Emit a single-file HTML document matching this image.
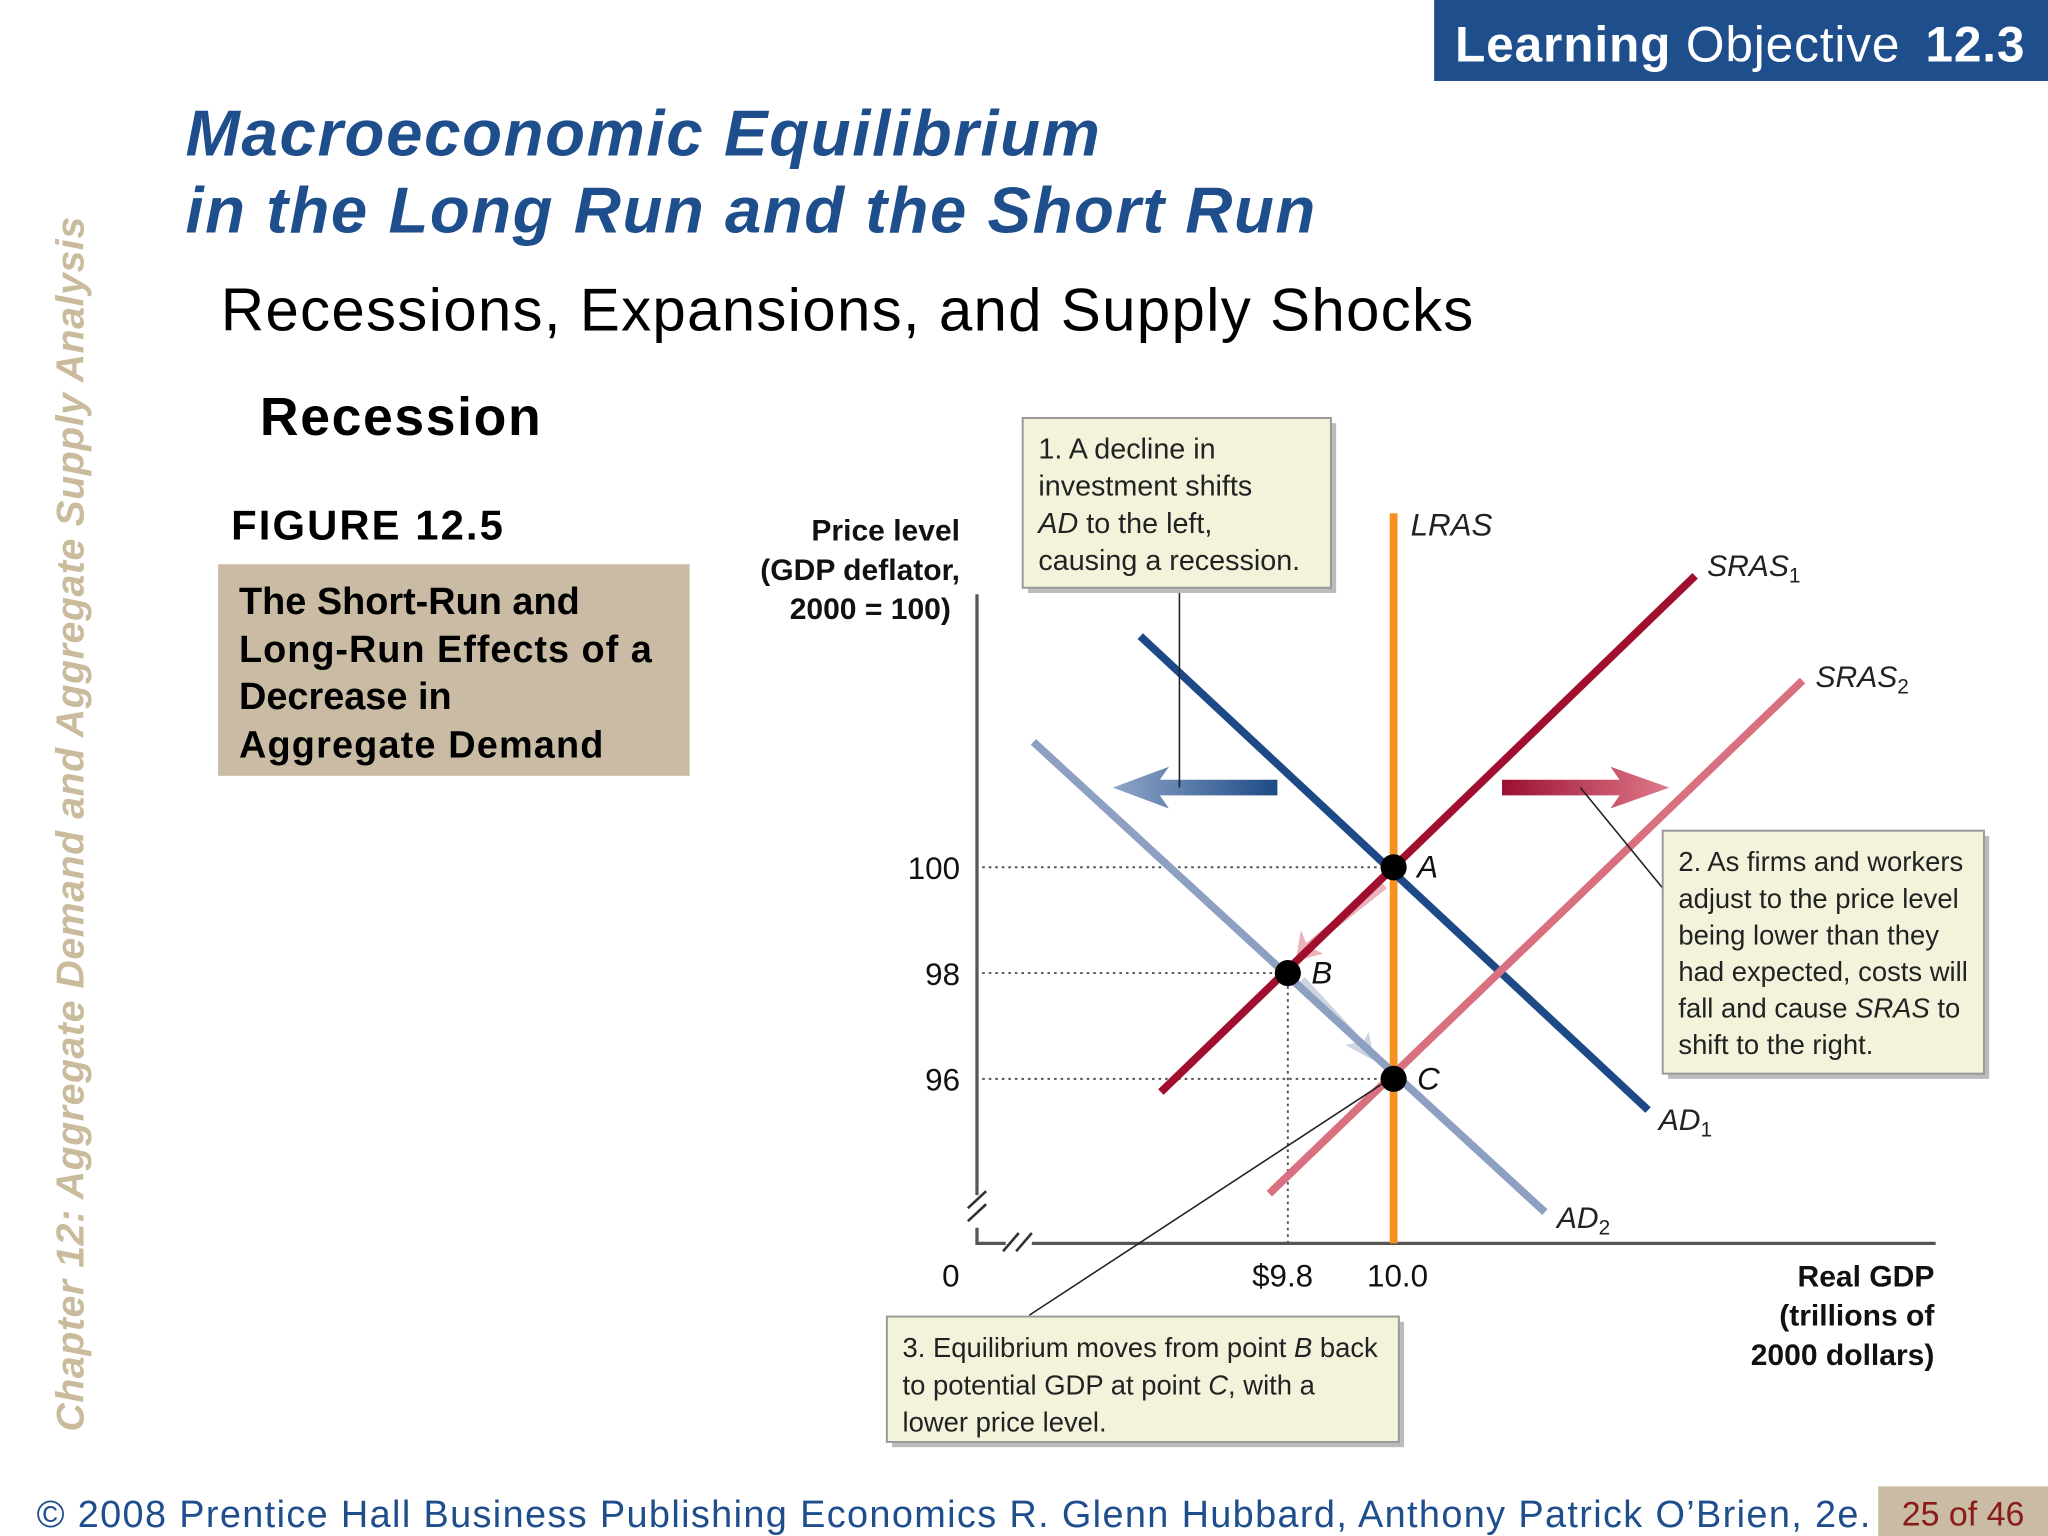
<!DOCTYPE html>
<html><head><meta charset="utf-8"><style>
html,body{margin:0;padding:0;background:#fff;}
svg{display:block;}
text{font-family:"Liberation Sans",sans-serif;}
</style></head><body>
<svg id="s" width="2048" height="1536" viewBox="0 0 1568 1176" xmlns="http://www.w3.org/2000/svg">
<defs>
<linearGradient id="gb" x1="0" x2="1"><stop offset="0" stop-color="#8fa6c8"/><stop offset="1" stop-color="#1d4a86"/></linearGradient>
<linearGradient id="gr" x1="0" x2="1"><stop offset="0" stop-color="#9a1030"/><stop offset="1" stop-color="#e07a8a"/></linearGradient>
</defs>
<rect x="1098" y="0" width="470" height="62" fill="#1f4e8c"/>
<text x="1114" y="47" font-size="38" fill="#fff" textLength="436"><tspan font-weight="bold">Learning</tspan> Objective <tspan font-weight="bold" dx="8">12.3</tspan></text>
<text x="142" y="119" font-size="50" font-weight="bold" font-style="italic" fill="#1f4e8c" textLength="700">Macroeconomic Equilibrium</text>
<text x="142" y="178" font-size="50" font-weight="bold" font-style="italic" fill="#1f4e8c" textLength="865">in the Long Run and the Short Run</text>
<text x="169" y="253" font-size="46" fill="#000" textLength="959">Recessions, Expansions, and Supply Shocks</text>
<text x="199" y="333" font-size="41" font-weight="bold" fill="#000" textLength="215">Recession</text>
<text transform="translate(64,1096) rotate(-90)" font-size="30" font-weight="bold" font-style="italic" fill="#c9bb9c" textLength="930">Chapter 12:  Aggregate Demand and Aggregate Supply Analysis</text>
<text x="177" y="413" font-size="32" font-weight="bold" fill="#000" textLength="208">FIGURE 12.5</text>
<rect x="167" y="432" width="361" height="162" fill="#c9bba4"/>
<g font-size="29" font-weight="bold" fill="#000">
<text x="183" y="470">The Short-Run and</text><text x="183" y="507" textLength="316">Long-Run Effects of a</text><text x="183" y="543">Decrease in</text><text x="183" y="580" textLength="279">Aggregate Demand</text></g>

<g id="chart"></g>

<rect x="0" y="1140" width="1568" height="36" fill="#fff"/>
<text x="28" y="1169" font-size="29" fill="#1f4e8c" textLength="1404">© 2008 Prentice Hall Business Publishing    Economics  R. Glenn Hubbard, Anthony Patrick O’Brien, 2e.</text>
<rect x="1438" y="1138" width="130" height="38" fill="#c9bba4"/>
<text x="1456" y="1168" font-size="26" fill="#8b1a1a">25 of 46</text>
</svg>
<script>
const curveNames=['AD1','AD2','SRAS1','SRAS2'];
const curveX1=[9.521,9.319,9.560,9.765];
const curveY1=[104.37,102.37,95.75,93.83];
const curveX2=[10.481,10.286,10.570,10.773];
const curveY2=[95.41,93.48,105.51,103.53];
const curveColors=['#1d4a86','#8ea0c2','#a0102e','#d9707f'];
const pointNames=['A','B','C'];
const pointX=[10.0,9.8,10.0];
const pointY=[100,98,96];
const yTicks=[100,98,96];
const xTicks=[9.8,10.0];
const xTickLabels=['$9.8','10.0'];
const lrasX=10.0;
const NS='http://www.w3.org/2000/svg';
const X=v=>1067+(v-10)*405;
const Y=v=>664-(v-100)*40.5;
const g=document.getElementById('chart');
function el(t,a,p){const e=document.createElementNS(NS,t);for(const k in a)e.setAttribute(k,a[k]);(p||g).appendChild(e);return e;}
function tx(x,y,s,a,p){const e=el('text',Object.assign({x:x,y:y},a||{}),p);e.textContent=s;return e;}
let ax=el('path',{d:'M748 455 L748 915 M748 940 L748 952 L770 952 M790 952 L1482 952',stroke:'#555','stroke-width':2.5,fill:'none'});


el('path',{d:'M741 925 L755 912 M741 935 L755 922 M768 958 L780 944 M778 958 L790 944',stroke:'#333','stroke-width':2});
yTicks.forEach((v,i)=>{
 const l=el('line',{x1:752,x2:X(pointX[i]),y1:Y(v),y2:Y(v),stroke:'#555','stroke-width':1.5,'stroke-dasharray':'2 3'});
 
 
 const t=tx(735,Y(v)+9,String(v),{'font-size':24,'text-anchor':'end',fill:'#111'});
 
 
});
el('line',{x1:X(9.8),x2:X(9.8),y1:Y(98),y2:952,stroke:'#555','stroke-width':1.5,'stroke-dasharray':'2 3'});
xTicks.forEach((v,i)=>{
 const t=tx(X(v)+(i?3:-4),985,xTickLabels[i],{'font-size':24,'text-anchor':'middle',fill:'#111'});
 
 
});
let z=tx(728,985,'0',{'font-size':24,'text-anchor':'middle',fill:'#111'});


const yt=el('g',{'font-size':23,'font-weight':'bold',fill:'#111','text-anchor':'end'});


tx(735,414,'Price level',{},yt);tx(735,444,'(GDP deflator,',{},yt);tx(728,474,'2000 = 100)',{},yt);
const xt=el('g',{'font-size':23,'font-weight':'bold',fill:'#111','text-anchor':'end'});


tx(1481,985,'Real GDP',{},xt);tx(1481,1015,'(trillions of',{},xt);tx(1481,1045,'2000 dollars)',{},xt);
let lr=el('line',{x1:X(lrasX),x2:X(lrasX),y1:393,y2:952,stroke:'#f7901e','stroke-width':6});


let lt=tx(1080,410,'LRAS',{'font-size':24,'font-style':'italic',fill:'#222'});


let ba=el('path',{d:'M978 597 L888 597 L895 587 L852 603 L895 619 L888 609 L978 609 Z',fill:'url(#gb)'});


let ra=el('path',{d:'M1150 597 L1240 597 L1233 587 L1278 603 L1233 619 L1240 609 L1150 609 Z',fill:'url(#gr)'});


el('path',{d:'M1057 675 L1000 722 L996 712 L992 736 L1013 730 L1004 726 L1062 680 Z',fill:'#e8a0aa',opacity:0.8});
el('path',{d:'M995 752 L1040 798 L1030 800 L1052 812 L1048 790 L1044 797 L999 748 Z',fill:'#c2cad8',opacity:0.8});
const labelPos=[[1270,865,'AD','1'],[1192,940,'AD','2'],[1307,441,'SRAS','1'],[1390,526,'SRAS','2']];
curveNames.forEach((n,i)=>{
 const l=el('line',{x1:X(curveX1[i]),y1:Y(curveY1[i]),x2:X(curveX2[i]),y2:Y(curveY2[i]),stroke:curveColors[i],'stroke-width':6});
 
 
 const p=labelPos[i];
 const t=tx(p[0],p[1],p[2],{'font-size':23,'font-style':'italic',fill:'#222'});
 const s=el('tspan',{'font-size':16,dy:5,'font-style':'normal'},t);s.textContent=p[3];
 
 
});
pointNames.forEach((n,i)=>{
 const c=el('circle',{cx:X(pointX[i]),cy:Y(pointY[i]),r:10,fill:'#000'});
 
 
 const t=tx(X(pointX[i])+18,Y(pointY[i])+8,n,{'font-size':24,'font-style':'italic',fill:'#111'});
 
 
});
el('path',{d:'M903 450 L903 603 M1210 603 L1273 680 M1058 830 L788 1007',stroke:'#222','stroke-width':1.2,fill:'none'});
function box(x,y,w,h,lines,name,fs,lh){
 el('rect',{x:x+4,y:y+4,width:w,height:h,fill:'#bbb'});
 const r=el('rect',{x:x,y:y,width:w,height:h,fill:'#f3f3dc',stroke:'#999','stroke-width':1.5});
 
 
 const gg=el('g',{'font-size':fs,fill:'#222'});
 
 
 lines.forEach((s,k)=>{const t=tx(x+12,y+31+k*lh,'',{},gg);t.innerHTML=s;});
}
box(783,320,236,130,['1.  A decline in','investment shifts','<tspan font-style="italic">AD</tspan> to the left,','causing a recession.'],'callout-1',22,28.5);
box(1273,636,246,186,['2. As firms and workers','adjust to the price level','being lower than they','had expected, costs will','fall and cause <tspan font-style="italic">SRAS</tspan> to','shift to the right.'],'callout-2',21,28);
box(679,1008,392,96,['3. Equilibrium moves from point <tspan font-style="italic">B</tspan> back','to potential GDP at point <tspan font-style="italic">C</tspan>, with a','lower price level.'],'callout-3',21,28.5);
</script>
</body></html>
